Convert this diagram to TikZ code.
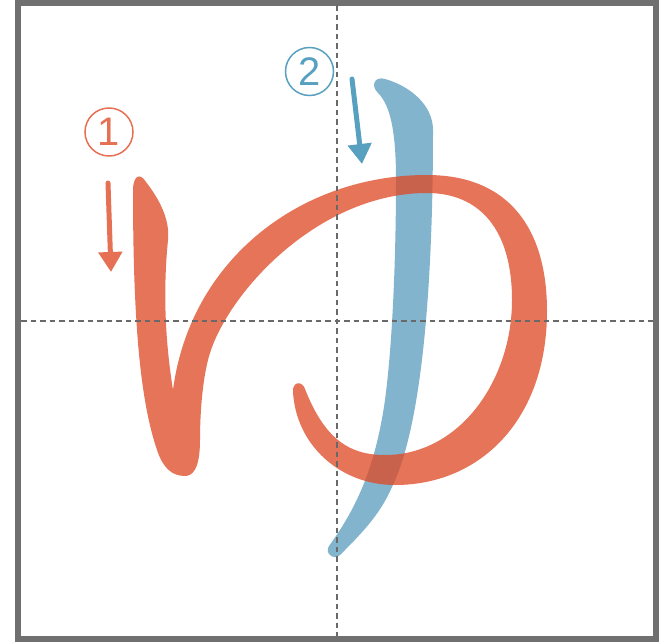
\documentclass[tikz,border=0pt]{standalone}
\usepackage{fontspec}
\setmainfont{Liberation Sans}
\usetikzlibrary{arrows.meta}
\definecolor{strokeA}{RGB}{222,74,38}
\definecolor{strokeB}{RGB}{130,180,206}
\definecolor{markA}{RGB}{229,112,84}
\definecolor{markB}{RGB}{88,160,192}
\definecolor{gridgray}{RGB}{105,105,105}
\begin{document}
\begin{tikzpicture}[%
    x=0.03cm,y=-0.03cm,
    guide/.style={gridgray,line width=0.075cm,dash pattern=on 0.165cm off 0.12cm},
    orderarrow/.style={line width=0.15cm,line cap=round,
      -{Triangle[length=0.6cm,width=0.69cm]}},
    badge/.style={draw,circle,line width=0.045cm,minimum size=1.44cm,
      inner sep=0pt,font=\fontsize{34}{34}\selectfont}
    ]
  \useasboundingbox (0,0) rectangle (670,642);
  \draw[gridgray!95!white,line width=0.18cm] (18,2.5) rectangle (656,639);
  % stroke 2 (blue), under stroke 1
  \fill[strokeB] (433,130)
    .. controls (433,300) and (420,430) .. (392,487)
    .. controls (380,515) and (360,535) .. (340,555)
    .. controls (334,561) and (324,553) .. (329,546)
    .. controls (355,510) and (375,470) .. (385,400)
    .. controls (393,340) and (396,250) .. (396,180)
    .. controls (396,130) and (390,105) .. (378,93)
    .. controls (370,85) and (375,76) .. (385,79)
    .. controls (410,86) and (433,105) .. (433,130) -- cycle;
  % stroke 1 (orange)
  \fill[strokeA,opacity=0.77] (173,390)
    .. controls (190,260) and (300,175) .. (427,175)
    .. controls (510,175) and (547,230) .. (547,311)
    .. controls (547,420) and (480,485) .. (395,485)
    .. controls (340,485) and (296,445) .. (293,392)
    .. controls (292,382) and (302,380) .. (305,389)
    .. controls (325,440) and (350,455) .. (385,455)
    .. controls (460,455) and (512,380) .. (512,300)
    .. controls (512,230) and (480,193) .. (427,193)
    .. controls (320,193) and (230,290) .. (210,353)
    .. controls (203,375) and (200,410) .. (200,440)
    .. controls (200,470) and (192,476) .. (185,476)
    .. controls (172,476) and (163,468) .. (157,450)
    .. controls (140,400) and (133,320) .. (133,190)
    .. controls (133,176) and (140,172) .. (146,182)
    .. controls (160,200) and (170,220) .. (168,240)
    .. controls (163,290) and (165,340) .. (173,390) -- cycle;
  % centre guides
  \coordinate (gtop) at (337,5);
  \coordinate (gbot) at (337,636);
  \coordinate (gleft) at (21,321);
  \coordinate (gright) at (653,321);
  \draw[guide] (gtop)--(gbot);
  \draw[guide] (gleft)--(gright);
  % order marks
  \node[badge,markA] at (109,132) (one) {1};
  \node[badge,markB] at (309.5,71.5) (two) {2};
  \coordinate (a1s) at (108,183);
  \coordinate (a1e) at (111,272);
  \coordinate (a2s) at (352,79);
  \coordinate (a2e) at (362,164);
  \draw[orderarrow,markA] (a1s)--(a1e);
  \draw[orderarrow,markB] (a2s)--(a2e);
\end{tikzpicture}
\end{document}
